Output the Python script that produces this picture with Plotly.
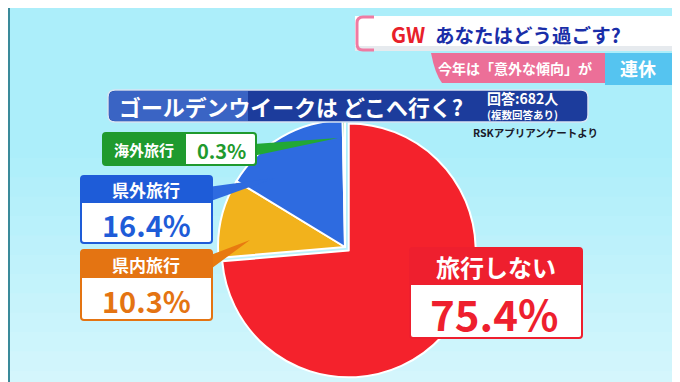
import plotly.graph_objects as go

# ---- data ----
categories = ["旅行しない", "県内旅行", "県外旅行", "海外旅行"]
values = [75.4, 10.3, 16.4, 0.3]
value_labels = ["75.4%", "10.3%", "16.4%", "0.3%"]
colors = ["#f4222c", "#f2b21c", "#2e6be0", "#22a834"]

title_text = "ゴールデンウイークは どこへ行く?"
respondents = "回答:682人"
note = "(複数回答あり)"
source = "RSKアプリアンケートより"
header_gw = "GW"
header_rest = "あなたはどう過ごす?"
sub_left = "今年は「意外な傾向」が"
sub_right = "連休"

FONT = "Noto Sans CJK JP"
W, H = 680, 382


def rrect(x0, y0, x1, y1, r):
    return (f"M{x0+r},{y0} L{x1-r},{y0} Q{x1},{y0} {x1},{y0+r} L{x1},{y1-r} "
            f"Q{x1},{y1} {x1-r},{y1} L{x0+r},{y1} Q{x0},{y1} {x0},{y1-r} "
            f"L{x0},{y0+r} Q{x0},{y0} {x0+r},{y0} Z")


def mix(c1, c2, t):
    a = [int(c1[i:i + 2], 16) for i in (1, 3, 5)]
    b = [int(c2[i:i + 2], 16) for i in (1, 3, 5)]
    return "#" + "".join(f"{round(a[k] + (b[k] - a[k]) * t):02x}" for k in range(3))


fig = go.Figure()
fig.add_trace(go.Scatter(x=[], y=[], showlegend=False))

cx, cy, R = 337, 239, 132
fig.add_trace(go.Pie(
    labels=categories, values=values, sort=False, direction="clockwise",
    rotation=0, pull=[0.04, 0, 0, 0],
    marker=dict(colors=colors, line=dict(color="white", width=2)),
    textinfo="none", hoverinfo="label+value", showlegend=False,
    domain=dict(x=[(cx - R) / W, (cx + R) / W], y=[1 - (cy + R) / H, 1 - (cy - R) / H]),
))

shapes = []
ann = []

# background gradient bands
nb = 12
for i in range(nb):
    y0 = 150 + i * (H - 150) / nb
    shapes.append(dict(type="rect", x0=0, x1=W, y0=y0, y1=y0 + (H - 150) / nb + 1,
                       fillcolor=mix("#aceefa", "#d4f6fc", (i + 1) / nb), line_width=0, layer="below"))
# left edge line
shapes.append(dict(type="rect", x0=0, x1=2, y0=0, y1=H, fillcolor="#3a8a9a", line_width=0, layer="below"))

# ---- top-right header ----
shapes.append(dict(type="rect", x0=347, x1=682, y0=8, y1=43, fillcolor="white", line_width=0, layer="above"))
shapes.append(dict(type="rect", x0=347, x1=682, y0=38, y1=43, fillcolor="#e6eaee", line_width=0, layer="above"))
shapes.append(dict(type="path", path="M366,9 L355,9 Q349,9 349,15 L349,36 Q349,42 355,42 L366,42",
                   line=dict(color="#ef7aa2", width=3), layer="above"))
shapes.append(dict(type="path", path="M423,45 L600,45 L600,75 L434,75 Q427,66 423,45 Z",
                   fillcolor="#ec6f98", line_width=0, layer="above"))
shapes.append(dict(type="rect", x0=597, x1=667, y0=45, y1=77, fillcolor="#55c4f0", line_width=0, layer="above"))
shapes.append(dict(type="rect", x0=668, x1=682, y0=45, y1=75, fillcolor="#ec6f98", line_width=0, layer="above"))
ann.append(dict(x=381, y=26, text=f"<b>{header_gw}</b>", font=dict(family=FONT, size=21, color="#e8202a"),
                xanchor="left", yanchor="middle"))
ann.append(dict(x=425, y=26, text=f"<b>{header_rest}</b>", font=dict(family=FONT, size=19.5, color="#1a2ea8"),
                xanchor="left", yanchor="middle"))
ann.append(dict(x=428, y=60, text=f"<b>{sub_left}</b>", font=dict(family=FONT, size=14, color="white"),
                xanchor="left", yanchor="middle"))
ann.append(dict(x=630, y=60, text=f"<b>{sub_right}</b>", font=dict(family=FONT, size=18, color="white"),
                xanchor="center", yanchor="middle"))

# ---- title banner ----
shapes.append(dict(type="path", path=rrect(100, 82, 580, 114, 7), fillcolor="#1c3c9c",
                   line=dict(color="#d8e4f4", width=1.5), layer="above"))
shapes.append(dict(type="path", path="M107,83 L240,83 L240,113 L107,113 Q101,113 101,107 L101,89 Q101,83 107,83 Z",
                   fillcolor="#3a64c4", line_width=0, layer="above"))
ann.append(dict(x=109, y=98, text=f"<b>{title_text}</b>", font=dict(family=FONT, size=21.9, color="white"),
                xanchor="left", yanchor="middle"))
ann.append(dict(x=477, y=90, text=f"<b>{respondents}</b>", font=dict(family=FONT, size=14, color="white"),
                xanchor="left", yanchor="middle"))
ann.append(dict(x=477, y=106.5, text=f"<b>{note}</b>", font=dict(family=FONT, size=10.5, color="white"),
                xanchor="left", yanchor="middle"))
ann.append(dict(x=463, y=124, text=f"<b>{source}</b>", font=dict(family=FONT, size=10.5, color="#1a1a2a"),
                xanchor="left", yanchor="middle"))

# ---- pointers ----
shapes.append(dict(type="path", path="M245,136 L330,130 L245,148 Z", fillcolor=colors[3], line_width=0, layer="above"))
shapes.append(dict(type="path", path="M200,179 L267,170 L200,194 Z", fillcolor=colors[2], line_width=0, layer="above"))
shapes.append(dict(type="path", path="M200,248 L242,232 L200,263 Z", fillcolor="#e87a10", line_width=0, layer="above"))

# ---- green box ----
gc = "#1f9a2e"
shapes.append(dict(type="path", path=rrect(95, 125, 248, 157, 3), fillcolor="white",
                   line=dict(color=gc, width=2), layer="above"))
shapes.append(dict(type="rect", x0=95, x1=178, y0=125, y1=157, fillcolor=gc, line_width=0, layer="above"))
ann.append(dict(x=136, y=141, text=f"<b>{categories[3]}</b>", font=dict(family=FONT, size=15, color="white"),
                xanchor="center", yanchor="middle"))
ann.append(dict(x=213, y=142, text=f"<b>{value_labels[3]}</b>", font=dict(family=FONT, size=20, color=gc),
                xanchor="center", yanchor="middle"))

# ---- blue box ----
bc = "#1e5cd8"
shapes.append(dict(type="path", path=rrect(73, 168, 204, 235, 3), fillcolor="white",
                   line=dict(color=bc, width=2), layer="above"))
shapes.append(dict(type="rect", x0=73, x1=204, y0=168, y1=195, fillcolor=bc, line_width=0, layer="above"))
ann.append(dict(x=138, y=181, text=f"<b>{categories[2]}</b>", font=dict(family=FONT, size=17, color="white"),
                xanchor="center", yanchor="middle"))
ann.append(dict(x=138, y=216, text=f"<b>{value_labels[2]}</b>", font=dict(family=FONT, size=29, color=bc),
                xanchor="center", yanchor="middle"))

# ---- orange box ----
oc = "#e47412"
shapes.append(dict(type="path", path=rrect(73, 242, 204, 312, 3), fillcolor="white",
                   line=dict(color=oc, width=2), layer="above"))
shapes.append(dict(type="rect", x0=73, x1=204, y0=242, y1=270, fillcolor=oc, line_width=0, layer="above"))
ann.append(dict(x=138, y=256, text=f"<b>{categories[1]}</b>", font=dict(family=FONT, size=17, color="white"),
                xanchor="center", yanchor="middle"))
ann.append(dict(x=138, y=292, text=f"<b>{value_labels[1]}</b>", font=dict(family=FONT, size=29, color=oc),
                xanchor="center", yanchor="middle"))

# ---- red box ----
rc = "#ee1f2e"
shapes.append(dict(type="path", path=rrect(402, 240, 574, 330, 3), fillcolor="white",
                   line=dict(color=rc, width=2), layer="above"))
shapes.append(dict(type="rect", x0=402, x1=574, y0=240, y1=277, fillcolor=rc, line_width=0, layer="above"))
ann.append(dict(x=488, y=258, text=f"<b>{categories[0]}</b>", font=dict(family=FONT, size=24, color="white"),
                xanchor="center", yanchor="middle"))
ann.append(dict(x=486, y=304, text=f"<b>{value_labels[0]}</b>", font=dict(family=FONT, size=42, color=rc),
                xanchor="center", yanchor="middle"))

for a in ann:
    a.update(xref="x", yref="y", showarrow=False)
for s in shapes:
    s.update(xref="x", yref="y")

fig.update_layout(
    width=W, height=H, margin=dict(l=0, r=0, t=0, b=0),
    paper_bgcolor="#aceefa", plot_bgcolor="rgba(0,0,0,0)",
    xaxis=dict(range=[0, W], visible=False, fixedrange=True),
    yaxis=dict(range=[H, 0], visible=False, fixedrange=True),
    shapes=shapes, annotations=ann, showlegend=False,
)
fig.write_html("out.html")
